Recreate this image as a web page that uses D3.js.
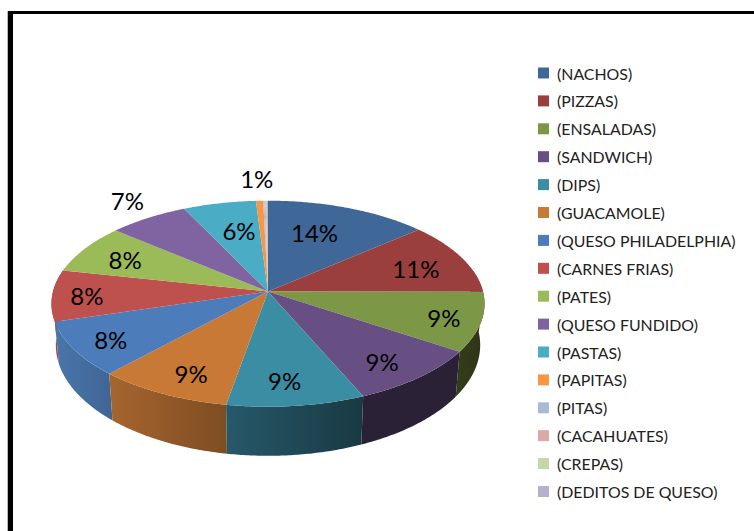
<!DOCTYPE html>
<html>
<head>
<meta charset="utf-8">
<script src="https://cdn.jsdelivr.net/npm/d3@7"></script>
<style>
html,body{margin:0;padding:0;background:#fff}
svg{display:block}
text{font-family:Lato,"Open Sans",sans-serif}
</style>
</head>
<body>
<svg id="chart" width="754" height="531"></svg>
<script>
const categories = ["(NACHOS)","(PIZZAS)","(ENSALADAS)","(SANDWICH)","(DIPS)","(GUACAMOLE)","(QUESO PHILADELPHIA)","(CARNES FRIAS)","(PATES)","(QUESO FUNDIDO)","(PASTAS)","(PAPITAS)","(PITAS)","(CACAHUATES)","(CREPAS)","(DEDITOS DE QUESO)"];
const shares = [13.6,11.4,9.3,9.2,9.2,9.0,8.6,8.0,7.8,6.7,6.1,0.6,0.1,0.1,0.1,0.1];
const shareLabels = ["14%","11%","9%","9%","9%","9%","8%","8%","8%","7%","6%","1%","","","",""];
const colors = ["#3F6899","#9A3F3D","#7C9846","#684F83","#3B8DA4","#C87935","#4C7DBA","#BE504D","#9BBB59","#8064A2","#4BACC6","#F79646","#A9BAD9","#DAA9A8","#C5D6A9","#B8AFCC"];
const wallLeft = ["#3F6899","#9A3F3D","#343C1B","#2A2136","#26596A","#A6652F","#4A76AB","#A84844","#9BBB59","#8064A2","#4BACC6","#F79646","#A9BAD9","#DAA9A8","#C5D6A9","#B8AFCC"];
const wallRight = ["#3F6899","#9A3F3D","#2E3517","#2A2136","#193942","#7D4D22","#3F6594","#A84844","#9BBB59","#8064A2","#4BACC6","#F79646","#A9BAD9","#DAA9A8","#C5D6A9","#B8AFCC"];
const labelNudgeX = [-13,7,24,8,-3,-3,-20,-26,-9,-52,7,-5,0,0,0,0];
const labelNudgeY = [3,2,4,10,10,11,7,1,-1,-37,4,-46,0,0,0,0];

const svg = d3.select("#chart");
const cx = 268, cy = 291.5, persp = 0.1184, sx = 215, sy = 101.56;
const project = (r, a) => {
  const u = r * Math.sin(a), v = -r * Math.cos(a), w = 1 - persp * v;
  return [cx + sx * u / w, cy + sy * v / w];
};
const lower = ([x, y]) => [cx + 0.98 * (x - cx), 1.075 * y + 18.6];
const sample = (a0, a1) => {
  const n = Math.max(2, Math.ceil(Math.abs(a1 - a0) / 0.01));
  return d3.range(n + 1).map(i => a0 + (a1 - a0) * i / n);
};
const line = d3.line();
const pie = d3.pie().sort(null).value(d => d)(shares);

// frame
svg.append("rect").attr("x",7).attr("y",11).attr("width",1).attr("height",520).attr("fill","#bbb");
svg.append("rect").attr("x",8).attr("y",11).attr("width",5).attr("height",520).attr("fill","#000");
svg.append("rect").attr("x",8).attr("y",11).attr("width",746).attr("height",3).attr("fill","#000");

// side walls
const defs = svg.append("defs");
const visLo = 1.35, visHi = 4.95;
const front = pie.filter(d => d.endAngle > visLo && d.startAngle < visHi)
  .sort((p, q) => Math.abs((q.startAngle + q.endAngle) / 2 - Math.PI) - Math.abs((p.startAngle + p.endAngle) / 2 - Math.PI));
front.forEach(d => {
  const a0 = Math.max(d.startAngle, visLo), a1 = Math.min(d.endAngle, visHi);
  const top = sample(a0, a1).map(a => project(1, a));
  const bottom = top.map(lower).reverse();
  const xs = top.concat(bottom).map(p => p[0]);
  const id = "wall" + d.index;
  const g = defs.append("linearGradient").attr("id", id).attr("gradientUnits","userSpaceOnUse")
    .attr("x1", d3.min(xs)).attr("x2", d3.max(xs)).attr("y1",0).attr("y2",0);
  g.append("stop").attr("offset",0).attr("stop-color", wallLeft[d.index]);
  g.append("stop").attr("offset",1).attr("stop-color", wallRight[d.index]);
  svg.append("path").attr("d", line(top.concat(bottom)) + "Z").attr("fill", `url(#${id})`);
});

// top face
svg.append("g").selectAll("path").data(pie).join("path")
  .attr("d", d => line([project(0, 0)].concat(sample(d.startAngle, d.endAngle).map(a => project(1, a)))) + "Z")
  .attr("fill", d => colors[d.index]);

// value labels
svg.append("g").selectAll("text").data(pie.filter(d => shareLabels[d.index])).join("text")
  .attr("x", d => project(0.72, (d.startAngle + d.endAngle) / 2)[0] + labelNudgeX[d.index])
  .attr("y", d => project(0.72, (d.startAngle + d.endAngle) / 2)[1] + labelNudgeY[d.index])
  .attr("text-anchor","middle").attr("dominant-baseline","central")
  .attr("font-size",24).attr("fill","#000")
  .text(d => shareLabels[d.index]);

// legend
const legendY = d3.scalePoint().domain(categories).range([73, 491.5]);
const legend = svg.append("g").selectAll("g").data(categories).join("g")
  .attr("transform", d => `translate(538,${legendY(d)})`);
legend.append("rect").attr("x",0).attr("y",-5.5).attr("width",11).attr("height",11)
  .attr("fill", (d, i) => colors[i]);
legend.append("text").attr("x",19).attr("y",0).attr("dominant-baseline","central")
  .attr("font-size",15.9).attr("fill","#222").text(d => d);
</script>
</body>
</html>
